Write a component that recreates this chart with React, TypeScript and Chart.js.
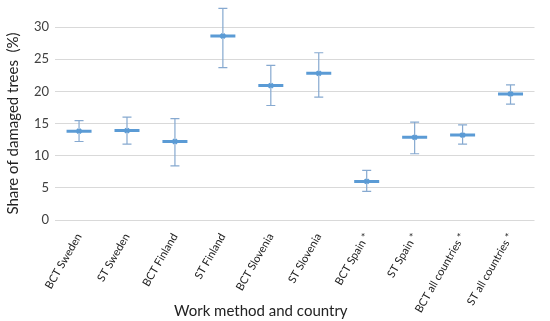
import React, { useEffect, useRef } from "react";
import { Chart, registerables } from "chart.js";

Chart.register(...registerables);

const categories = [
  "BCT Sweden",
  "ST Sweden",
  "BCT Finland",
  "ST Finland",
  "BCT Slovenia",
  "ST Slovenia",
  "BCT Spain *",
  "ST Spain *",
  "BCT all countries *",
  "ST all countries *",
];
const meanValues = [13.8, 13.9, 12.2, 28.6, 20.9, 22.8, 6.0, 12.85, 13.2, 19.6];
const upperValues = [15.45, 16.0, 15.75, 32.9, 24.05, 26.0, 7.7, 15.2, 14.8, 21.0];
const lowerValues = [12.2, 11.8, 8.4, 23.7, 17.8, 19.1, 4.45, 10.3, 11.8, 18.0];
const yTicks = [0, 5, 10, 15, 20, 25, 30];

const FONT = "Lato, 'Noto Sans', sans-serif";

const errorBarPlugin = {
  id: "errorBars",
  beforeDatasetsDraw(chart: any) {
    const { ctx, scales } = chart;
    const x = scales.x;
    const y = scales.y;
    ctx.save();
    ctx.strokeStyle = "#86a9d0";
    ctx.lineWidth = 1.2;
    const cap = 4.5;
    categories.forEach((_, i) => {
      const px = x.getPixelForValue(i);
      const top = y.getPixelForValue(upperValues[i]);
      const bot = y.getPixelForValue(lowerValues[i]);
      ctx.beginPath();
      ctx.moveTo(px, top);
      ctx.lineTo(px, bot);
      ctx.moveTo(px - cap, top);
      ctx.lineTo(px + cap, top);
      ctx.moveTo(px - cap, bot);
      ctx.lineTo(px + cap, bot);
      ctx.stroke();
    });
    ctx.restore();
  },
};

const xTitlePlugin = {
  id: "xTitle",
  afterDraw(chart: any) {
    const { ctx, chartArea } = chart;
    ctx.save();
    ctx.fillStyle = "#222";
    ctx.font = `15px ${FONT}`;
    ctx.textAlign = "center";
    ctx.textBaseline = "alphabetic";
    const cx = (chartArea.left + chartArea.right) / 2 - 34;
    ctx.fillText("Work method and country", cx, chart.height - 5);
    ctx.restore();
  },
};

export default function App() {
  const ref = useRef<HTMLCanvasElement>(null);
  useEffect(() => {
    if (!ref.current) return;
    const chart = new Chart(ref.current, {
      type: "line",
      data: {
        labels: categories,
        datasets: [
          {
            data: meanValues,
            showLine: false,
            pointStyle: "line",
            pointRadius: 12.5,
            pointBorderWidth: 3,
            pointBorderColor: "#5b9bd5",
            pointBackgroundColor: "#5b9bd5",
          },
          {
            data: meanValues,
            showLine: false,
            pointStyle: "crossRot",
            pointRadius: 3,
            pointBorderWidth: 2.2,
            pointBorderColor: "#5b9bd5",
            pointBackgroundColor: "#5b9bd5",
          },
        ],
      },
      options: {
        responsive: true,
        maintainAspectRatio: false,
        animation: false,
        layout: { padding: { top: 27, right: 5, bottom: 0, left: 4 } },
        plugins: {
          legend: { display: false },
          tooltip: { enabled: false },
        },
        scales: {
          x: {
            type: "category",
            offset: true,
            grid: { display: false },
            border: { display: false },
            afterFit: (axis: any) => {
              axis.height = 101;
            },
            ticks: {
              maxRotation: 60,
              minRotation: 60,
              color: "#222",
              padding: 3,
              font: { family: FONT, size: 11 },
            },
          },
          y: {
            min: 0,
            max: 30,
            afterBuildTicks: (axis: any) => {
              axis.ticks = yTicks.map((v) => ({ value: v }));
            },
            grid: { color: "#d9d9d9", drawTicks: false, lineWidth: 1 },
            border: { display: false },
            ticks: {
              color: "#404040",
              padding: 6,
              font: { family: FONT, size: 13 },
            },
            title: {
              display: true,
              text: "Share of damaged trees  (%)",
              color: "#222",
              font: { family: FONT, size: 15 },
              padding: { top: 0, bottom: 6 },
            },
          },
        },
      },
      plugins: [errorBarPlugin, xTitlePlugin],
    });
    return () => chart.destroy();
  }, []);
  return (
    <div style={{ position: "fixed", left: 0, top: 0, width: 550, height: 321, background: "#fff" }}>
      <canvas ref={ref} />
    </div>
  );
}
